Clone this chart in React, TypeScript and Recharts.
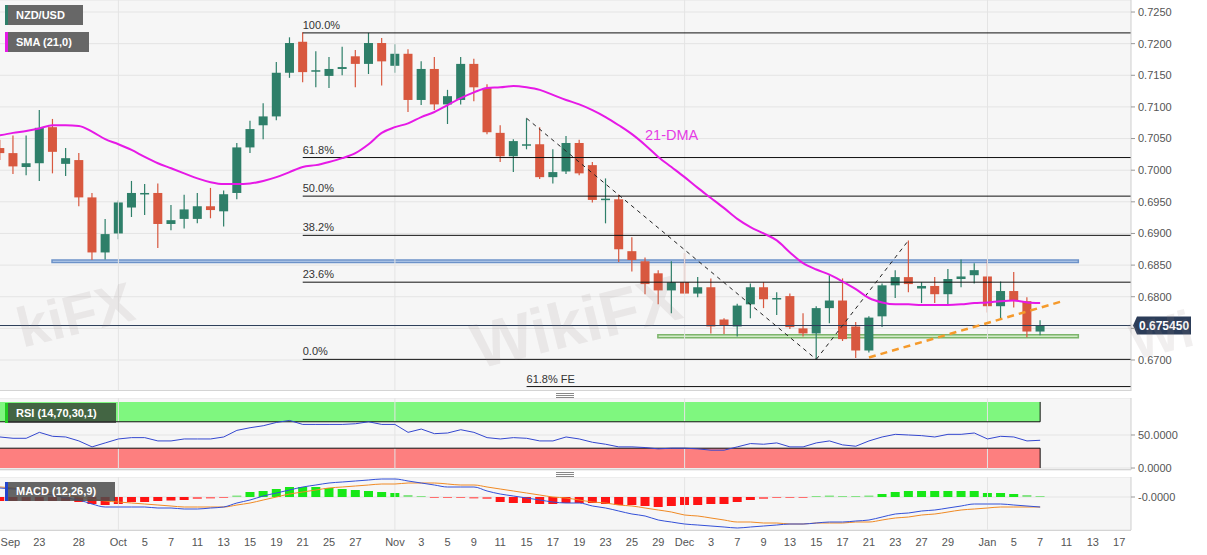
import React from 'react';
import {
  ComposedChart, Bar, Line, XAxis, YAxis, CartesianGrid,
  ReferenceLine, ReferenceArea, Cell,
} from 'recharts';

// trading-day index: 0 = Sep 21, first candle on the left edge is Sep 20
const FIRST_DAY = -1;

const opens = [
  0.7035, 0.7027, 0.7005, 0.7011, 0.7068, 0.7010, 0.7016, 0.6957, 0.6870, 0.6900,
  0.6941, 0.6963, 0.6964, 0.6915, 0.6923, 0.6923, 0.6943, 0.6935, 0.6964, 0.7036,
  0.7071, 0.7085, 0.7154, 0.7203, 0.7157, 0.7149, 0.7160, 0.7180, 0.7168, 0.7201,
  0.7165, 0.7184, 0.7111, 0.7160, 0.7104, 0.7111, 0.7168, 0.7130, 0.7059, 0.7022,
  0.7040, 0.7041, 0.6989, 0.6998, 0.7043, 0.7008, 0.6954, 0.6954, 0.6872, 0.6856,
  0.6837, 0.6810, 0.6823, 0.6805, 0.6815, 0.6764, 0.6753, 0.6788, 0.6815, 0.6796,
  0.6801, 0.6750, 0.6742, 0.6782, 0.6794, 0.6753, 0.6715, 0.6769, 0.6818, 0.6831,
  0.6813, 0.6817, 0.6804, 0.6828, 0.6834, 0.6832, 0.6785, 0.6809, 0.6793, 0.6745,
];
const highs = [
  0.7048, 0.7055, 0.7055, 0.7095, 0.7081, 0.7035, 0.7027, 0.6964, 0.6923, 0.6952,
  0.6983, 0.6978, 0.6979, 0.6945, 0.6961, 0.6964, 0.6972, 0.6968, 0.7043, 0.7078,
  0.7106, 0.7171, 0.7210, 0.7218, 0.7188, 0.7179, 0.7195, 0.7190, 0.7217, 0.7209,
  0.7199, 0.7191, 0.7172, 0.7179, 0.7127, 0.7179, 0.7176, 0.7136, 0.7071, 0.7049,
  0.7082, 0.7068, 0.7033, 0.7054, 0.7048, 0.7013, 0.6987, 0.6961, 0.6894, 0.6862,
  0.6842, 0.6856, 0.6869, 0.6831, 0.6829, 0.6766, 0.6789, 0.6821, 0.6823, 0.6807,
  0.6805, 0.6774, 0.6785, 0.6834, 0.6829, 0.6760, 0.6769, 0.6821, 0.6842, 0.6889,
  0.6823, 0.6831, 0.6844, 0.6859, 0.6853, 0.6858, 0.6824, 0.6839, 0.6799, 0.6763,
];
const lows = [
  0.7016, 0.6994, 0.6992, 0.6983, 0.6995, 0.6991, 0.6943, 0.6858, 0.6859, 0.6891,
  0.6926, 0.6929, 0.6877, 0.6905, 0.6908, 0.6916, 0.6924, 0.6911, 0.6954, 0.7027,
  0.7049, 0.7079, 0.7146, 0.7139, 0.7131, 0.7130, 0.7150, 0.7131, 0.7152, 0.7134,
  0.7154, 0.7092, 0.7103, 0.7095, 0.7073, 0.7104, 0.7109, 0.7057, 0.7013, 0.6997,
  0.7033, 0.6986, 0.6979, 0.6994, 0.6992, 0.6949, 0.6916, 0.6855, 0.6840, 0.6804,
  0.6788, 0.6774, 0.6804, 0.6799, 0.6742, 0.6741, 0.6737, 0.6766, 0.6782, 0.6771,
  0.6749, 0.6737, 0.6701, 0.6758, 0.6730, 0.6703, 0.6712, 0.6752, 0.6798, 0.6807,
  0.6790, 0.6790, 0.6788, 0.6815, 0.6821, 0.6775, 0.6764, 0.6783, 0.6736, 0.6739,
];
const closes = [
  0.7027, 0.7006, 0.7011, 0.7067, 0.7029, 0.7019, 0.6957, 0.6870, 0.6899, 0.6949,
  0.6964, 0.6964, 0.6915, 0.6921, 0.6938, 0.6943, 0.6937, 0.6962, 0.7036, 0.7065,
  0.7085, 0.7154, 0.7201, 0.7155, 0.7158, 0.7160, 0.7163, 0.7168, 0.7201, 0.7172,
  0.7184, 0.7111, 0.7160, 0.7104, 0.7117, 0.7168, 0.7131, 0.7060, 0.7022, 0.7046,
  0.7041, 0.6989, 0.6997, 0.7043, 0.6995, 0.6953, 0.6955, 0.6875, 0.6858, 0.6820,
  0.6810, 0.6823, 0.6805, 0.6815, 0.6753, 0.6755, 0.6786, 0.6815, 0.6796, 0.6798,
  0.6752, 0.6742, 0.6782, 0.6794, 0.6733, 0.6715, 0.6767, 0.6818, 0.6831, 0.6820,
  0.6817, 0.6804, 0.6828, 0.6832, 0.6842, 0.6785, 0.6809, 0.6794, 0.6745, 0.67545,
];
const sma21 = [
  0.7055, 0.7059, 0.7062, 0.7066, 0.7071, 0.7071, 0.7070, 0.7061, 0.7049, 0.7041,
  0.7032, 0.7021, 0.7011, 0.7003, 0.6995, 0.6987, 0.6981, 0.6978, 0.6978, 0.6979,
  0.6983, 0.6989, 0.6997, 0.7005, 0.7008, 0.7013, 0.7019, 0.7027, 0.7041, 0.7059,
  0.7068, 0.7074, 0.7084, 0.7092, 0.7103, 0.7114, 0.7123, 0.7130, 0.7131, 0.7133,
  0.7131, 0.7127, 0.7119, 0.7111, 0.7104, 0.7095, 0.7084, 0.7071, 0.7057, 0.7040,
  0.7021, 0.7005, 0.6989, 0.6972, 0.6956, 0.6940, 0.6923, 0.6910, 0.6900, 0.6889,
  0.6870, 0.6853, 0.6843, 0.6835, 0.6824, 0.6812, 0.6798, 0.6791, 0.6788, 0.6788,
  0.6787, 0.6787, 0.6787, 0.6788, 0.6790, 0.6791, 0.6793, 0.6794, 0.6791, 0.6790,
];
const rsi14 = [
  47, 45, 45, 54, 48, 47, 41, 32, 38, 44,
  46, 46, 41, 41, 44, 44, 44, 47, 57, 61,
  64, 69, 72, 66, 66, 66, 66, 67, 70, 66,
  66, 54, 59, 52, 53, 58, 54, 46, 44, 46,
  45, 41, 41, 47, 44, 39, 36, 32, 32, 31,
  29, 30, 30, 29, 27, 27, 32, 37, 36, 38,
  32, 32, 38, 41, 35, 33, 41, 47, 51, 50,
  49, 47, 51, 51, 53, 44, 48, 47, 41, 42,
];
const macdLine = [
  0.0009, 0.0008, 0.0007, 0.0004, 0.0002, -0.0001, -0.0003, -0.0007, -0.0010, -0.0010,
  -0.0010, -0.0010, -0.0011, -0.0011, -0.0012, -0.0012, -0.0011, -0.0010, -0.0006, -0.0003,
  0.0001, 0.0004, 0.0007, 0.0010, 0.0012, 0.0014, 0.0015, 0.0016, 0.0017, 0.0018,
  0.0018, 0.0016, 0.0014, 0.0012, 0.0010, 0.0010, 0.0010, 0.0006, 0.0003, 0.0001,
  -0.0001, -0.0003, -0.0005, -0.0006, -0.0006, -0.0009, -0.0011, -0.0014, -0.0017, -0.0019,
  -0.0023, -0.0025, -0.0027, -0.0028, -0.0029, -0.0030, -0.0031, -0.0030, -0.0029, -0.0028,
  -0.0027, -0.0027, -0.0026, -0.0025, -0.0025, -0.0024, -0.0023, -0.0020, -0.0017, -0.0016,
  -0.0014, -0.0013, -0.0011, -0.0009, -0.0007, -0.0007, -0.0007, -0.0008, -0.0009, -0.0010,
];
const signalLine = [
  0.0010, 0.0009, 0.0007, 0.0005, 0.0004, 0.0002, 0.0000, -0.0002, -0.0004, -0.0005,
  -0.0006, -0.0007, -0.0008, -0.0009, -0.0010, -0.0010, -0.0010, -0.0010, -0.0008, -0.0006,
  -0.0003, 0.0000, 0.0003, 0.0005, 0.0007, 0.0009, 0.0010, 0.0011, 0.0012, 0.0013,
  0.0013, 0.0014, 0.0014, 0.0014, 0.0013, 0.0012, 0.0012, 0.0010, 0.0008, 0.0006,
  0.0004, 0.0002, 0.0000, -0.0001, -0.0003, -0.0005, -0.0006, -0.0008, -0.0009, -0.0011,
  -0.0013, -0.0015, -0.0018, -0.0019, -0.0021, -0.0023, -0.0025, -0.0025, -0.0026, -0.0026,
  -0.0027, -0.0027, -0.0026, -0.0026, -0.0026, -0.0025, -0.0025, -0.0023, -0.0021, -0.0020,
  -0.0018, -0.0017, -0.0015, -0.0013, -0.0012, -0.0011, -0.0010, -0.0010, -0.0010, -0.0010,
];
const macdHist = [
  -0.0004, -0.0004, -0.0004, -0.0004, -0.0004, -0.0004, -0.0005, -0.0007, -0.0008, -0.0007,
  -0.0005, -0.0005, -0.0004, -0.00035, -0.0003, -0.0002, -0.00015, -0.0001, 0.00015, 0.0005,
  0.0006, 0.0008, 0.0010, 0.0010, 0.0010, 0.0009, 0.0008, 0.0007, 0.0006, 0.0005,
  0.0004, 0.0002, 0.0001, -0.0001, -0.0001, -0.0001, -0.00015, -0.0002, -0.0005, -0.0006,
  -0.0006, -0.0007, -0.0007, -0.0006, -0.0006, -0.0006, -0.0007, -0.0008, -0.0008, -0.0009,
  -0.0010, -0.0009, -0.0008, -0.0008, -0.0007, -0.0007, -0.0005, -0.0003, -0.0002, -0.0001,
  -0.0001, -0.0001, 0.0001, 0.00015, 0.0001, 0.0001, 0.00015, 0.0003, 0.0005, 0.0006,
  0.0006, 0.0006, 0.0006, 0.0006, 0.0006, 0.0004, 0.0004, 0.0003, 0.0002, 0.0001,
];

const tickDays = [
  -0.2, 2, 5, 8, 10, 12, 14, 16, 18, 20, 22, 24, 26, 29, 31, 33, 35, 37, 39, 41,
  43, 45, 47, 49, 51, 53, 55, 57, 59, 61, 63, 65, 67, 69, 71, 74, 76, 78, 80, 82, 84,
];
const tickLabels = [
  'Sep', '23', '28', 'Oct', '5', '7', '11', '13', '15', '19', '21', '25', '27', 'Nov', '3', '5', '9', '11', '15', '17',
  '19', '23', '25', '29', 'Dec', '3', '7', '9', '13', '15', '17', '21', '23', '27', '29', 'Jan', '5', '7', '11', '13', '17',
];
const monthStarts = [8, 29, 51, 74];
const priceTicks = [0.67, 0.675, 0.68, 0.685, 0.69, 0.695, 0.7, 0.705, 0.71, 0.715, 0.72, 0.725];

const fibStart = 22;
const fibLevels = [0.7217, 0.7020, 0.6959, 0.6897, 0.6823, 0.6701];
const fibLabels = ['100.0%', '61.8%', '50.0%', '38.2%', '23.6%', '0.0%'];
const feStart = 39;
const feLevel = 0.6658;

const X_DOMAIN: [number, number] = [-0.99, 84.9];
const W = 1207;
const AXIS_W = 76;
const GREEN = '#2e7f69';
const RED = '#d8583f';
const GRID = '#e4e4e4';
const FONT = 'Arial, "Liberation Sans", sans-serif';

const rows = opens.map((open, k) => ({
  day: FIRST_DAY + k,
  open,
  high: highs[k],
  low: lows[k],
  close: closes[k],
  range: [lows[k], highs[k]],
  sma: sma21[k],
  rsi: rsi14[k],
  macd: macdLine[k],
  signal: signalLine[k],
  hist: macdHist[k],
}));
const lastDay = rows[rows.length - 1].day;
const lastClose = closes[closes.length - 1];

function Candle(props: any) {
  const { x, y, width, height, payload } = props;
  const { open, close, high, low } = payload;
  const color = close >= open ? GREEN : RED;
  const top = Math.min(y, y + height);
  const h = Math.abs(height);
  const ppu = h / (high - low);
  const bodyTop = top + (high - Math.max(open, close)) * ppu;
  const bodyH = Math.max(Math.abs(open - close) * ppu, 1.5);
  const cx = x + width / 2;
  return (
    <g>
      <line x1={cx} x2={cx} y1={top} y2={top + h} stroke={color} strokeWidth={1.2} />
      <rect x={x} y={bodyTop} width={width} height={bodyH} fill={color} />
    </g>
  );
}

function FibText(props: any) {
  const { viewBox, text } = props;
  return (
    <text x={viewBox.x} y={viewBox.y - 4} fontSize={11} fill="#333" fontFamily={FONT}>
      {text}
    </text>
  );
}

function PriceTag(props: any) {
  const { viewBox, text } = props;
  const x = viewBox.x + viewBox.width + 2;
  const y = viewBox.y;
  return (
    <g>
      <path d={`M${x} ${y} L${x + 4} ${y - 9} H${x + 58} V${y + 9} H${x + 4} Z`} fill="#2c3d59" />
      <text x={x + 6} y={y + 4.5} fill="#fff" fontSize={12} fontWeight="bold" fontFamily={FONT}>
        {text}
      </text>
    </g>
  );
}

const histColor = (v: number) =>
  v >= 0 ? (v > 0.00025 ? '#17e817' : '#86e386') : v < -0.00025 ? '#ff1414' : '#ff6e6e';

const axisTick = { fontSize: 11, fill: '#555', fontFamily: FONT };

const boxStyle = (top: number, width: number, border: string, bg: string): React.CSSProperties => ({
  position: 'absolute',
  left: 5,
  top,
  width,
  height: 20,
  background: bg,
  borderLeft: `3px solid ${border}`,
  boxSizing: 'border-box',
  color: '#fff',
  fontSize: 11,
  fontWeight: 'bold',
  lineHeight: '20px',
  paddingLeft: 8,
  fontFamily: FONT,
});

const markStyle = (left: number, top: number, size: number): React.CSSProperties => ({
  position: 'absolute',
  left,
  top,
  fontSize: size,
  fontWeight: 'bold',
  color: 'rgba(150,130,130,0.13)',
  transform: 'rotate(-14deg)',
  fontFamily: FONT,
  pointerEvents: 'none',
  whiteSpace: 'nowrap',
});

export default function App() {
  return (
    <div style={{ position: 'absolute', left: 0, top: 0, width: W, height: 555, background: '#fff', fontFamily: FONT, overflow: 'hidden' }}>
      {/* price panel */}
      <div style={{ position: 'absolute', left: 0, top: 0 }}>
        <ComposedChart width={W} height={391} data={rows} margin={{ top: 0, right: 0, bottom: 0, left: 0 }}>
          <CartesianGrid fill="#f6f6f6" stroke={GRID} vertical={false} />
          <XAxis type="number" dataKey="day" domain={X_DOMAIN} allowDataOverflow hide />
          <YAxis
            orientation="right"
            width={AXIS_W}
            domain={[0.6651, 0.7269]}
            ticks={priceTicks}
            interval={0}
            tickFormatter={(v: number) => (Math.abs(v - 0.675) < 1e-6 ? '' : v.toFixed(4))}
            tick={axisTick}
            tickSize={4}
            tickMargin={3}
            tickLine={{ stroke: '#999' }}
            axisLine={{ stroke: '#cfcfcf' }}
          />
          {monthStarts.map((d) => (
            <ReferenceLine key={d} x={d} stroke={GRID} />
          ))}
          {fibLevels.map((lvl, k) => (
            <ReferenceLine
              key={lvl}
              segment={[{ x: fibStart, y: lvl }, { x: X_DOMAIN[1], y: lvl }]}
              stroke="#111"
              strokeWidth={1}
              label={<FibText text={fibLabels[k]} />}
            />
          ))}
          <ReferenceLine
            segment={[{ x: feStart, y: feLevel }, { x: X_DOMAIN[1], y: feLevel }]}
            stroke="#111"
            label={<FibText text="61.8% FE" />}
          />
          <ReferenceArea x1={2.96} x2={80.9} y1={0.6854} y2={0.6858} fill="#bcd0ec" fillOpacity={1} stroke="#6d93c9" strokeWidth={1.5} />
          <ReferenceArea x1={48.97} x2={80.9} y1={0.6735} y2={0.6740} fill="#d3ebc8" fillOpacity={1} stroke="#7db56c" strokeWidth={1.5} />
          <ReferenceLine y={lastClose} stroke="#2c3d59" strokeWidth={1} label={<PriceTag text="0.675450" />} />
          <ReferenceLine segment={[{ x: 39, y: 0.7082 }, { x: 61, y: 0.6701 }]} stroke="#222" strokeDasharray="4 4" />
          <ReferenceLine segment={[{ x: 61, y: 0.6701 }, { x: 68, y: 0.6889 }]} stroke="#222" strokeDasharray="4 4" />
          <ReferenceLine segment={[{ x: 65, y: 0.6704 }, { x: 79.7, y: 0.6793 }]} stroke="#f59a2c" strokeWidth={2.5} strokeDasharray="7 5" />
          <Bar dataKey="range" barSize={9} shape={<Candle />} isAnimationActive={false} />
          <Line dataKey="sma" type="monotone" stroke="#e619e6" strokeWidth={2} dot={false} isAnimationActive={false} />
        </ComposedChart>
      </div>
      <div style={{ position: 'absolute', left: 0, top: 390, width: 1131, height: 1, background: '#d4d4d4' }} />

      {/* RSI panel */}
      <div style={{ position: 'absolute', left: 0, top: 398 }}>
        <ComposedChart width={W} height={78} data={rows} margin={{ top: 0, right: 0, bottom: 6, left: 0 }}>
          <CartesianGrid fill="#f6f6f6" stroke={GRID} vertical={false} />
          <XAxis type="number" dataKey="day" domain={X_DOMAIN} allowDataOverflow hide />
          <YAxis
            orientation="right"
            width={AXIS_W}
            domain={[-3, 106]}
            ticks={[0, 50]}
            interval={0}
            tickFormatter={(v: number) => v.toFixed(4)}
            tick={axisTick}
            tickSize={4}
            tickMargin={3}
            tickLine={{ stroke: '#999' }}
            axisLine={{ stroke: '#cfcfcf' }}
          />
          {monthStarts.map((d) => (
            <ReferenceLine key={d} x={d} stroke={GRID} />
          ))}
          <ReferenceArea x1={X_DOMAIN[0]} x2={lastDay} y1={70} y2={100} fill="#7ff77f" fillOpacity={1} stroke="none" />
          <ReferenceArea x1={X_DOMAIN[0]} x2={lastDay} y1={0} y2={30} fill="#fd7f7f" fillOpacity={1} stroke="none" />
          <ReferenceLine segment={[{ x: X_DOMAIN[0], y: 70 }, { x: lastDay, y: 70 }]} stroke="#111" />
          <ReferenceLine segment={[{ x: lastDay, y: 70 }, { x: lastDay, y: 100 }]} stroke="#111" />
          <ReferenceLine segment={[{ x: X_DOMAIN[0], y: 30 }, { x: lastDay, y: 30 }]} stroke="#111" />
          <ReferenceLine segment={[{ x: lastDay, y: 0 }, { x: lastDay, y: 30 }]} stroke="#111" />
          <Line dataKey="rsi" type="linear" stroke="#3447cf" strokeWidth={1} dot={false} isAnimationActive={false} />
        </ComposedChart>
      </div>
      <div style={{ position: 'absolute', left: 0, top: 469, width: 1131, height: 1, background: '#d4d4d4' }} />

      {/* MACD panel */}
      <div style={{ position: 'absolute', left: 0, top: 477 }}>
        <ComposedChart width={W} height={79} data={rows} margin={{ top: 0, right: 0, bottom: 0, left: 0 }}>
          <CartesianGrid fill="#f6f6f6" stroke={GRID} vertical={false} />
          <XAxis
            type="number"
            dataKey="day"
            domain={X_DOMAIN}
            allowDataOverflow
            ticks={tickDays}
            interval={0}
            tickFormatter={(v: number) => tickLabels[tickDays.indexOf(v)] ?? ''}
            tick={axisTick}
            tickLine={false}
            axisLine={false}
            height={26}
          />
          <YAxis
            orientation="right"
            width={AXIS_W}
            domain={[-0.0033, 0.002]}
            ticks={[0]}
            interval={0}
            tickFormatter={() => '-0.0000'}
            tick={axisTick}
            tickSize={4}
            tickMargin={3}
            tickLine={{ stroke: '#999' }}
            axisLine={{ stroke: '#cfcfcf' }}
          />
          {monthStarts.map((d) => (
            <ReferenceLine key={d} x={d} stroke={GRID} />
          ))}
          <Bar dataKey="hist" barSize={9} isAnimationActive={false}>
            {rows.map((r) => (
              <Cell key={r.day} fill={histColor(r.hist)} />
            ))}
          </Bar>
          <Line dataKey="signal" type="monotone" stroke="#f08a24" strokeWidth={1} dot={false} isAnimationActive={false} />
          <Line dataKey="macd" type="monotone" stroke="#3350d8" strokeWidth={1} dot={false} isAnimationActive={false} />
        </ComposedChart>
      </div>
      <div style={{ position: 'absolute', left: 0, top: 530, width: 1131, height: 1, background: '#d4d4d4' }} />

      {/* splitters */}
      {[393, 472].map((t) => (
        <div key={t} style={{ position: 'absolute', left: 556, top: t, width: 18, height: 5, borderTop: '1px solid #888', borderBottom: '1px solid #888', boxSizing: 'border-box' }}>
          <div style={{ marginTop: 1, height: 1, background: '#888' }} />
        </div>
      ))}

      {/* watermark */}
      <div style={markStyle(16, 282, 56)}>kiFX</div>
      <div style={markStyle(470, 285, 64)}>WikiFX</div>
      <div style={markStyle(1130, 305, 52)}>Wi</div>

      <div style={boxStyle(5, 78, GREEN, '#676767')}>NZD/USD</div>
      <div style={boxStyle(32, 84, '#e619e6', '#676767')}>SMA (21,0)</div>
      <div style={{ ...boxStyle(403, 111, '#22cc22', 'rgba(45,45,45,0.72)'), height: 20 }}>RSI (14,70,30,1)</div>
      <div style={{ ...boxStyle(482, 110, '#2244cc', 'rgba(75,75,75,0.85)'), height: 19, lineHeight: '19px' }}>MACD (12,26,9)</div>

      <div style={{ position: 'absolute', left: 645, top: 127, color: '#e53be5', fontSize: 14.5, fontFamily: FONT }}>21-DMA</div>
    </div>
  );
}
